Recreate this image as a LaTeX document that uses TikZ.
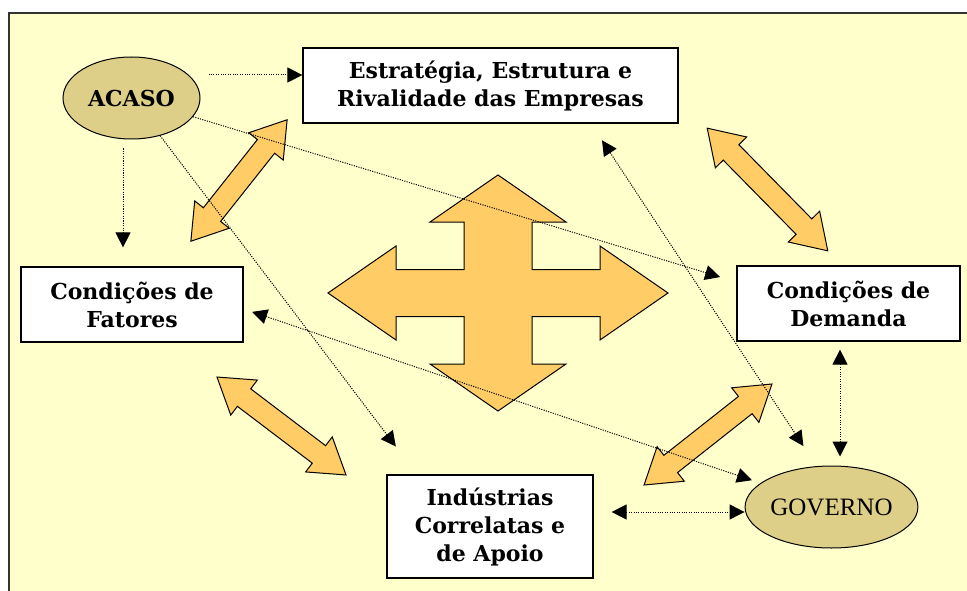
\documentclass[tikz,border=0pt]{standalone}
\usepackage{fontspec}
\setmainfont{DejaVu Serif}
\newfontfamily\govfont{Liberation Serif}
\usetikzlibrary{shapes.geometric,arrows.meta}
\definecolor{paper}{HTML}{FFFFCC}
\definecolor{khaki}{HTML}{DDCF88}
\definecolor{peach}{HTML}{FFCC66}

\tikzset{
    pics/fatarrow/.style={code={
        \draw[draw=black, fill=peach, line width=1pt, line join=miter]
            ({-#1},0) -- ({-#1+34},22) -- ({-#1+34},11) -- ({#1-34},11) -- ({#1-34},22) -- ({#1},0)
            -- ({#1-34},-22) -- ({#1-34},-11) -- ({-#1+34},-11) -- ({-#1+34},-22) -- cycle;
    }}
}

\begin{document}
\begin{tikzpicture}[
        x=1pt, y=-1pt,
        box/.style={draw, fill=white, line width=1.2pt, align=center, inner sep=0pt, font=\bfseries\fontsize{22}{28}\selectfont},
        oval/.style={ellipse, draw, fill=khaki, line width=1pt, inner sep=0pt, minimum height=82pt},
        cross/.style={draw, fill=peach, line width=1pt, line join=miter},
        dotarrow/.style={dash pattern=on 1.1pt off 1.3pt, line width=1pt, -{Triangle[length=15pt,width=15pt]}},
        dotboth/.style={dotarrow, {Triangle[length=15pt,width=15pt]}-{Triangle[length=15pt,width=15pt]}}
    ]
        % page and frame
        \useasboundingbox (0,0) rectangle (967,591);
        \fill[paper] (9,13) rectangle (967,591);
        \draw[line width=2pt, black!80] (9,591) -- (9,13) -- (967,13);

        % ovals and boxes
        \node[oval, minimum width=137pt, font=\bfseries\fontsize{22}{24}\selectfont] (acaso) at (131.5,98) {ACASO};
        \node[oval, minimum width=171pt, font=\govfont\fontsize{25}{28}\selectfont] (gov) at (831.5,507) {GOVERNO};
        \node[box, minimum width=375pt, minimum height=75pt] (estr) at (490.5,85.5) {Estratégia, Estrutura e\\Rivalidade das Empresas};
        \node[box, minimum width=222pt, minimum height=75pt] (fat) at (132,304.5) {Condições de\\Fatores};
        \node[box, minimum width=223pt, minimum height=75pt] (dem) at (848.5,303.5) {Condições de\\Demanda};
        \node[box, minimum width=206pt, minimum height=103pt] (ind) at (490,526.5) {Indústrias\\Correlatas e\\de Apoio};

        % thick two-way arrows
        \pic[rotate=51.6] at (239,180.5) {fatarrow=77.5};
        \pic[rotate=-45.5] at (767.5,189.5) {fatarrow=86};
        \pic[rotate=-37.2] at (281.5,426) {fatarrow=81};
        \pic[rotate=38.3] at (708,434.5) {fatarrow=81.5};

        % four-way arrow in the middle
        \draw[cross, shift={(498,293)}] (0,-118) -- (68,-71) -- (34,-71) -- (34,-23.5) -- (102,-23.5) -- (102,-47) -- (170,0)
            -- (102,47) -- (102,23.5) -- (34,23.5) -- (34,71) -- (68,71) -- (0,118) -- (-68,71) -- (-34,71) -- (-34,23.5)
            -- (-102,23.5) -- (-102,47) -- (-170,0) -- (-102,-47) -- (-102,-23.5) -- (-34,-23.5) -- (-34,-71) -- (-68,-71) -- cycle;

        % dotted links
        \draw[dotarrow, shorten <=8pt] (acaso.east |- 0,75) -- (estr.west |- 0,75);
        \draw[dotarrow, shorten <=9pt, shorten >=19pt] (acaso.south -| 123,0) -- (fat.north -| 123,0);
        \draw[dotarrow, shorten >=17pt] (acaso) -- ([yshift=21.5pt]dem.west);
        \draw[dotarrow, shorten >=35pt] (acaso) -- ([xshift=-73pt]ind.north);
        \draw[dotboth, shorten <=20pt, shorten >=24pt] ([xshift=100.5pt]estr.south) -- (gov.110);
        \draw[dotboth, shorten <=9pt, shorten >=9pt] ([yshift=-4.5pt]fat.east) -- (gov);
        \draw[dotboth, shorten <=8pt, shorten >=9pt] (dem.south -| 840,0) -- (gov.north -| 840,0);
        \draw[dotboth, shorten <=18pt] (ind.east |- 0,512) -- (gov.west |- 0,512);
    \end{tikzpicture}
\end{document}
